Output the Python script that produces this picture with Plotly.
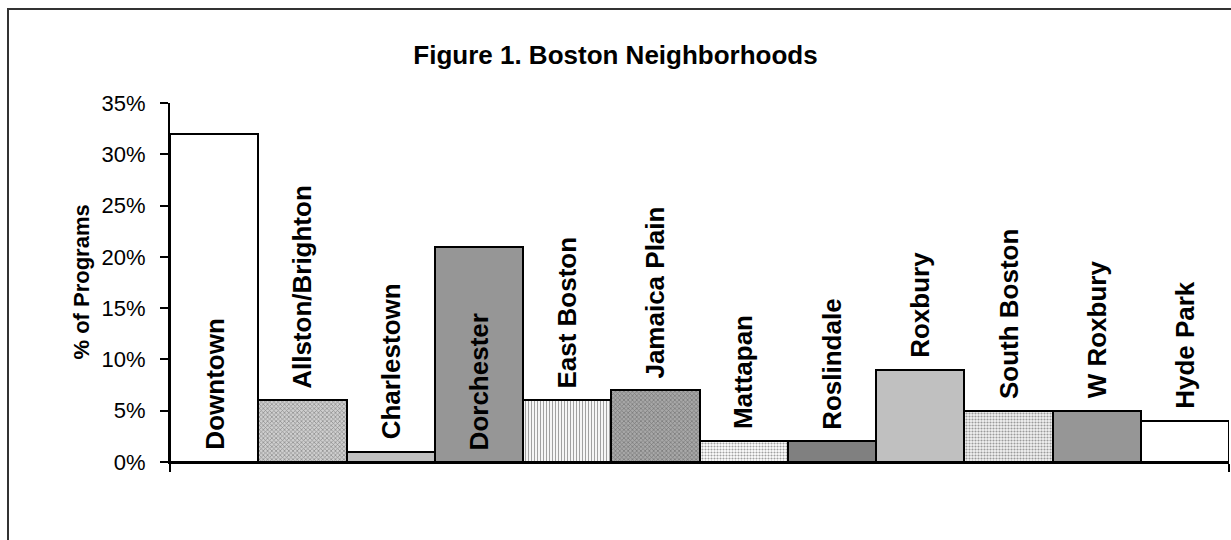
import plotly.graph_objects as go

# Share of programs by Boston neighborhood
categories = [
    "Downtown", "Allston/Brighton", "Charlestown", "Dorchester", "East Boston",
    "Jamaica Plain", "Mattapan", "Roslindale", "Roxbury", "South Boston",
    "W Roxbury", "Hyde Park",
]
shares = [0.32, 0.06, 0.01, 0.21, 0.06, 0.07, 0.02, 0.02, 0.09, 0.05, 0.05, 0.04]
label_inside = [True, False, False, True, False, False, False, False, False, False, False, False]

tick_values = [0, 0.05, 0.10, 0.15, 0.20, 0.25, 0.30, 0.35]

# Fill styles per bar (solid grey or a fine texture)
fill_colors = ["#ffffff", "#cfcfcf", "#c0c0c0", "#969696", "#ffffff", "#a8a8a8",
               "#ffffff", "#808080", "#c0c0c0", "#f2f2f2", "#969696", "#ffffff"]
pattern_shapes = ["", "x", "", "", "|", "x", ".", "", "", ".", "", ""]
pattern_fg = ["#000", "#a0a0a0", "#000", "#000", "#d0d0d0", "#7c7c7c",
              "#c8c8c8", "#000", "#000", "#a8a8a8", "#000", "#000"]

FONT = "Arial, Liberation Sans, sans-serif"

positions = list(range(len(categories)))

fig = go.Figure()
fig.add_trace(go.Bar(
    x=positions,
    y=shares,
    width=1,
    marker=dict(
        color=fill_colors,
        line=dict(color="black", width=2),
        pattern=dict(shape=pattern_shapes, fgcolor=pattern_fg,
                     bgcolor=fill_colors, size=3, solidity=0.4,
                     fillmode="overlay"),
    ),
    hoverinfo="skip",
))

annotations = []
for pos, name, val, inside in zip(positions, categories, shares, label_inside):
    annotations.append(dict(
        x=pos, y=0 if inside else val, xref="x", yref="y",
        text=f"<b>{name}</b>", textangle=-90, showarrow=False,
        xanchor="center", yanchor="bottom", yshift=10,
        font=dict(family=FONT, size=26, color="black"),
    ))

# Axis title
annotations.append(dict(
    x=-0.084, y=0.5, xref="paper", yref="paper",
    text="<b>% of Programs</b>", textangle=-90, showarrow=False,
    xanchor="center", yanchor="middle",
    font=dict(family=FONT, size=22, color="black"),
))

fig.update_layout(
    width=1231, height=540,
    margin=dict(l=170, r=2, t=103, b=78),
    paper_bgcolor="white", plot_bgcolor="white",
    showlegend=False,
    bargap=0,
    title=dict(
        text="<b>Figure 1. Boston Neighborhoods</b>",
        x=0.5, xref="container", xanchor="center",
        y=1 - 55 / 540, yref="container", yanchor="middle",
        font=dict(family=FONT, size=26, color="black"),
    ),
    font=dict(family=FONT, color="black"),
    annotations=annotations,
    shapes=[dict(
        type="rect", xref="paper", yref="paper",
        x0=(8 - 170) / 1059, x1=(1245 - 170) / 1059,
        y0=(462 - 555) / 359, y1=(462 - 9) / 359,
        line=dict(color="#333333", width=2), fillcolor="rgba(0,0,0,0)",
        layer="below",
    )],
)

fig.update_xaxes(
    range=[-0.5, len(categories) - 0.5],
    tickvals=[-0.5, len(categories) - 0.5],
    showticklabels=False,
    ticks="outside", ticklen=8, tickwidth=2, tickcolor="black",
    showline=True, linewidth=2, linecolor="black",
    showgrid=False, zeroline=False, fixedrange=True,
)
fig.update_yaxes(
    range=[0, 0.35],
    tickvals=tick_values,
    tickformat=".0%",
    ticks="outside", ticklen=8, tickwidth=2, tickcolor="black",
    ticklabelstandoff=10,
    tickfont=dict(family=FONT, size=22, color="black"),
    showline=True, linewidth=2, linecolor="black",
    showgrid=False, zeroline=False, fixedrange=True,
)

fig.write_html("out.html")
